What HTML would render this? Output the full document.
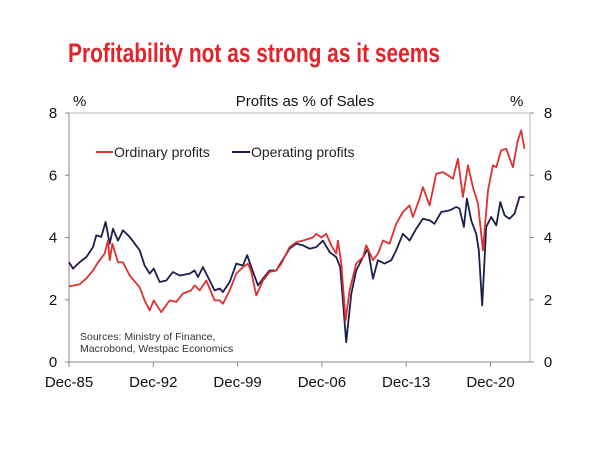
<!DOCTYPE html>
<html><head><meta charset="utf-8"><style>
html,body{margin:0;padding:0;background:#fff;}
svg{display:block;font-family:"Liberation Sans",Arial,sans-serif;}
</style></head><body>
<svg id="chart" width="600" height="450" viewBox="0 0 600 450">
<text x="68" y="62" font-size="27" font-weight="bold" fill="#e3242b" textLength="372" lengthAdjust="spacingAndGlyphs">Profitability not as strong as it seems</text>
<text x="73" y="106" font-size="15" fill="#111">%</text>
<text x="305" y="106" font-size="15" fill="#111" text-anchor="middle">Profits as % of Sales</text>
<text x="510" y="106" font-size="15" fill="#111">%</text>
<rect x="69" y="113" width="461" height="249" fill="none" stroke="#bbb" stroke-width="1"/>
<g id="axes"></g>
<g id="series"></g>
<g>
<line x1="96" y1="152" x2="113" y2="152" stroke="#e03030" stroke-width="2"/>
<text x="114" y="157" font-size="14" fill="#222">Ordinary profits</text>
<line x1="232" y1="152" x2="250" y2="152" stroke="#1a1f4e" stroke-width="2"/>
<text x="251" y="157" font-size="14" fill="#222">Operating profits</text>
</g>
<text x="80" y="340" font-size="10.5" fill="#333"><tspan x="80" y="340">Sources: Ministry of Finance,</tspan><tspan x="80" y="352">Macrobond, Westpac Economics</tspan></text>
</svg>
<script>
const yTicks=[0,2,4,6,8];
const xTickYears=[1985.92,1992.92,1999.92,2006.92,2013.92,2020.92];
const xTickLabels=["Dec-85","Dec-92","Dec-99","Dec-06","Dec-13","Dec-20"];
const ordYears=[1985.92,1986.81,1987.36,1987.91,1988.33,1988.88,1989.16,1989.30,1989.52,1989.99,1990.40,1990.96,1991.79,1992.20,1992.62,1992.95,1993.58,1994.28,1994.83,1995.38,1996.07,1996.35,1996.77,1997.32,1998.01,1998.43,1998.70,1999.26,1999.81,2000.36,2000.78,2001.06,2001.47,2002.03,2002.58,2003.13,2003.55,2004.24,2004.79,2005.34,2006.17,2006.45,2006.87,2007.28,2007.70,2008.11,2008.25,2008.53,2008.89,2009.22,2009.77,2010.33,2010.60,2011.16,2011.57,2011.99,2012.54,2013.09,2013.65,2014.20,2014.48,2015.03,2015.31,2015.86,2016.41,2016.97,2017.38,2017.80,2018.21,2018.63,2019.05,2019.46,2019.88,2020.29,2020.71,2021.12,2021.40,2021.81,2022.22,2022.78,2023.19,2023.47,2023.74];
const ordValues=[2.43,2.5,2.68,2.94,3.2,3.48,3.9,3.27,3.8,3.2,3.2,2.78,2.4,1.98,1.66,1.98,1.6,1.98,1.93,2.2,2.3,2.46,2.3,2.62,1.98,1.98,1.87,2.3,2.84,3.05,3.16,2.89,2.14,2.62,2.89,2.94,3.16,3.69,3.85,3.9,4.0,4.12,4.0,4.12,3.75,3.48,3.9,3.16,1.34,2.3,3.16,3.37,3.75,3.27,3.48,3.9,3.8,4.44,4.82,5.03,4.66,5.25,5.62,5.03,6.05,6.1,6.0,5.89,6.53,5.3,6.32,5.62,5.09,3.59,5.51,6.32,6.26,6.8,6.85,6.26,7.12,7.44,6.85];
const opYears=[1985.92,1986.25,1986.81,1987.36,1987.91,1988.19,1988.60,1988.96,1989.30,1989.57,1989.99,1990.40,1990.96,1991.79,1992.20,1992.62,1992.95,1993.45,1994.00,1994.55,1995.11,1995.94,1996.35,1996.63,1997.04,1997.60,1998.01,1998.43,1998.70,1999.26,1999.81,2000.36,2000.72,2001.06,2001.61,2002.03,2002.58,2003.13,2003.55,2004.24,2004.79,2005.34,2005.90,2006.45,2007.00,2007.56,2008.11,2008.44,2008.94,2009.36,2009.77,2010.33,2010.74,2011.16,2011.57,2012.12,2012.68,2013.09,2013.65,2014.20,2014.75,2015.31,2015.86,2016.27,2016.83,2017.52,2018.07,2018.35,2018.71,2018.96,2019.32,2019.73,2019.95,2020.23,2020.56,2020.98,2021.40,2021.73,2022.09,2022.50,2022.92,2023.33,2023.74];
const opValues=[3.21,3.0,3.21,3.37,3.69,4.07,4.02,4.5,3.8,4.28,3.9,4.23,4.02,3.59,3.1,2.84,3.0,2.57,2.62,2.89,2.78,2.84,2.94,2.73,3.05,2.62,2.3,2.36,2.25,2.57,3.16,3.1,3.43,3.05,2.46,2.68,2.94,2.94,3.21,3.64,3.8,3.75,3.64,3.69,3.9,3.53,3.37,3.05,0.64,2.19,2.94,3.37,3.64,2.68,3.27,3.16,3.27,3.59,4.12,3.9,4.28,4.6,4.55,4.44,4.82,4.87,4.98,4.93,4.34,5.25,4.55,4.12,3.59,1.82,4.34,4.66,4.39,5.14,4.71,4.6,4.77,5.3,5.3];

const NS="http://www.w3.org/2000/svg";
const X0=69,X1=530,Y0=362,Y1=113,YR0=1985.92,YR1=2024.2;
function xs(y){return X0+(y-YR0)/(YR1-YR0)*(X1-X0);}
function ys(v){return Y0-(v/8)*(Y0-Y1);}
function mk(tag,attrs,parent){const e=document.createElementNS(NS,tag);for(const k in attrs)e.setAttribute(k,attrs[k]);parent.appendChild(e);return e;}
const axes=document.getElementById('axes');
let e=mk('line',{x1:X0,y1:Y1,x2:X0,y2:Y0,stroke:'#888','stroke-width':1},axes);


e=mk('line',{x1:X0,y1:Y0,x2:X1,y2:Y0,stroke:'#888','stroke-width':1},axes);


yTicks.forEach(v=>{
  const y=ys(v);
  let t=mk('text',{x:53,y:y+5,'font-size':15,fill:'#111','text-anchor':'middle'},axes);t.textContent=v;
  
  
  t=mk('text',{x:548,y:y+5,'font-size':15,fill:'#111','text-anchor':'middle'},axes);t.textContent=v;
  
  
  const l=mk('line',{x1:X1,y1:y,x2:X1+4,y2:y,stroke:'#888'},axes);
  
  
  const l2=mk('line',{x1:X0-4,y1:y,x2:X0,y2:y,stroke:'#888'},axes);
  
  
});
xTickYears.forEach((yr,i)=>{
  const x=xs(yr);
  const l=mk('line',{x1:x,y1:Y0,x2:x,y2:Y0+5,stroke:'#888'},axes);
  
  
  const t=mk('text',{x:x,y:387,'font-size':15,fill:'#111','text-anchor':'middle'},axes);t.textContent=xTickLabels[i];
  
  
});
const ser=document.getElementById('series');
function line(xsArr,vals,color,name){
  const d=xsArr.map((yr,i)=>(i?'L':'M')+xs(yr).toFixed(1)+','+ys(vals[i]).toFixed(1)).join('');
  const p=mk('path',{d:d,fill:'none',stroke:color,'stroke-width':1.8,'stroke-linejoin':'round'},ser);
  
  
}
line(opYears,opValues,'#1a1f4e','operating-profits-line');
line(ordYears,ordValues,'#e03030','ordinary-profits-line');
</script>
</body></html>
